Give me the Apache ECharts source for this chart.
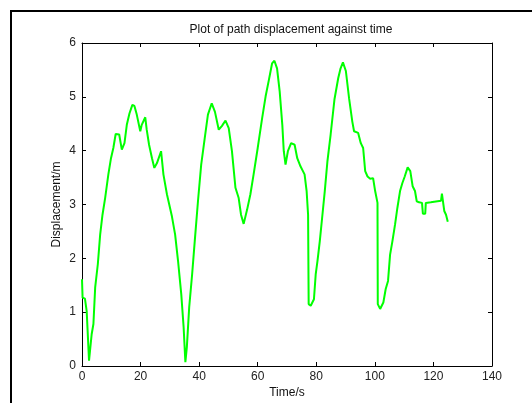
<!DOCTYPE html>
<html>
<head>
<meta charset="utf-8">
<script src="https://cdn.jsdelivr.net/npm/echarts@6/dist/echarts.min.js"></script>
<style>html,body{margin:0;padding:0;background:#fff;}#c{width:532px;height:403px;}</style>
</head>
<body>
<div id="c"></div>
<script>
var titleText = 'Plot of path displacement against time';
var xName = 'Time/s';
var yName = 'Displacement/m';
var xTicks = [0, 20, 40, 60, 80, 100, 120, 140];
var yTicks = [0, 1, 2, 3, 4, 5, 6];

var timeS = [0, 0.2, 1.0, 1.6, 2.4, 2.7, 3.3, 3.9, 4.5, 5.4, 6.2, 7.0, 7.9, 9.0, 9.9, 10.7, 11.5, 12.7, 13.6, 14.5, 15.3, 16.2, 17.2, 17.9, 18.7, 19.9, 20.4, 21.6, 22.1, 22.9, 23.9, 24.7, 25.6, 27.0, 27.8, 29.0, 30.7, 31.8, 32.8, 33.9, 34.7, 35.3, 35.8, 36.6, 37.6, 38.5, 39.6, 40.7, 41.9, 43.0, 44.3, 45.4, 46.7, 47.8, 49.0, 50.1, 51.2, 52.4, 53.5, 54.3, 55.2, 56.4, 57.5, 58.6, 60.0, 61.5, 62.7, 63.8, 64.9, 65.7, 66.6, 67.5, 68.4, 68.9, 69.5, 70.3, 71.4, 72.6, 73.5, 74.6, 76.0, 76.7, 77.2, 77.4, 78.1, 79.2, 79.8, 80.4, 81.2, 82.1, 82.9, 83.8, 84.9, 86.2, 87.5, 88.3, 89.1, 90.1, 91.2, 92.3, 92.9, 94.3, 95.2, 96.0, 96.7, 97.5, 98.4, 99.4, 100.1, 100.9, 101.0, 101.8, 102.9, 103.7, 104.5, 105.2, 106.0, 106.9, 107.7, 108.6, 109.4, 110.2, 111.2, 112.1, 112.9, 113.7, 114.3, 115.1, 116.1, 116.4, 117.2, 117.4, 119.1, 121.4, 122.6, 122.9, 123.5, 123.7, 124.3, 124.9];
var dispM = [1.61, 1.27, 1.25, 1.02, 0.10, 0.07, 0.59, 0.78, 1.46, 1.89, 2.44, 2.81, 3.12, 3.56, 3.86, 4.05, 4.31, 4.30, 4.02, 4.14, 4.48, 4.69, 4.85, 4.83, 4.67, 4.36, 4.48, 4.62, 4.39, 4.11, 3.86, 3.68, 3.77, 3.99, 3.56, 3.19, 2.78, 2.44, 1.95, 1.33, 0.72, 0.07, 0.35, 1.09, 1.70, 2.32, 3.06, 3.74, 4.23, 4.67, 4.88, 4.72, 4.39, 4.46, 4.56, 4.42, 3.99, 3.31, 3.12, 2.81, 2.64, 2.91, 3.19, 3.56, 4.05, 4.60, 5.01, 5.31, 5.62, 5.67, 5.53, 5.10, 4.48, 3.99, 3.74, 3.99, 4.14, 4.11, 3.86, 3.71, 3.56, 3.25, 2.81, 1.15, 1.12, 1.24, 1.70, 1.95, 2.32, 2.81, 3.25, 3.80, 4.30, 4.95, 5.35, 5.53, 5.64, 5.48, 4.97, 4.54, 4.36, 4.33, 4.14, 4.05, 3.62, 3.52, 3.48, 3.49, 3.25, 3.03, 1.15, 1.06, 1.18, 1.43, 1.58, 2.07, 2.32, 2.63, 2.94, 3.25, 3.40, 3.52, 3.69, 3.62, 3.34, 3.25, 3.06, 3.04, 3.03, 2.83, 2.83, 3.03, 3.04, 3.06, 3.07, 3.20, 3.17, 2.88, 2.81, 2.68];

var pts = timeS.map(function (t, i) { return [t, dispM[i]]; });
var font = 'Liberation Sans, Arial, sans-serif';
var chart = echarts.init(document.getElementById('c'), null, {renderer: 'canvas'});
var tickStyle = {show: true, inside: true, length: 4, lineStyle: {color: '#000', width: 1}};
var lineStyle = {show: true, onZero: false, lineStyle: {color: '#000', width: 1}};
chart.setOption({
  animation: false,
  backgroundColor: '#fff',
  title: {
    text: titleText, left: 286, top: 19, textAlign: 'center',
    textStyle: {fontFamily: font, fontSize: 12, fontWeight: 'normal', color: '#111'}
  },
  graphic: [{
    type: 'rect', shape: {x: 11, y: 11, width: 600, height: 500},
    style: {fill: null, stroke: '#000', lineWidth: 2}, silent: true, z: 100
  }],
  grid: {left: 82, top: 43, width: 410, height: 323, containLabel: false, outerBoundsMode: 'none'},
  xAxis: [{
    type: 'value', position: 'bottom', min: xTicks[0], max: xTicks[xTicks.length - 1], interval: 20,
    name: xName, nameLocation: 'middle', nameGap: 21, nameMoveOverlap: false,
    nameTextStyle: {fontFamily: font, fontSize: 12, color: '#111'},
    axisLine: lineStyle, axisTick: tickStyle, splitLine: {show: false},
    axisLabel: {fontFamily: font, fontSize: 12, color: '#222', margin: 5}
  }, {
    type: 'value', position: 'top', min: 0, max: 140, interval: 20,
    axisLine: lineStyle, axisTick: tickStyle, splitLine: {show: false},
    axisLabel: {show: false}
  }],
  yAxis: [{
    type: 'value', position: 'left', min: yTicks[0], max: yTicks[yTicks.length - 1], interval: 1,
    name: yName, nameLocation: 'middle', nameGap: 19, nameMoveOverlap: false,
    nameTextStyle: {fontFamily: font, fontSize: 12, color: '#111'},
    axisLine: lineStyle, axisTick: tickStyle, splitLine: {show: false},
    axisLabel: {fontFamily: font, fontSize: 12, color: '#222', margin: 6}
  }, {
    type: 'value', position: 'right', min: 0, max: 6, interval: 1,
    axisLine: lineStyle, axisTick: tickStyle, splitLine: {show: false},
    axisLabel: {show: false}
  }],
  series: [{
    type: 'line', data: pts, xAxisIndex: 0, yAxisIndex: 0,
    showSymbol: false, symbol: 'none',
    lineStyle: {color: '#00ff00', width: 2}
  }]
});
</script>
</body>
</html>
